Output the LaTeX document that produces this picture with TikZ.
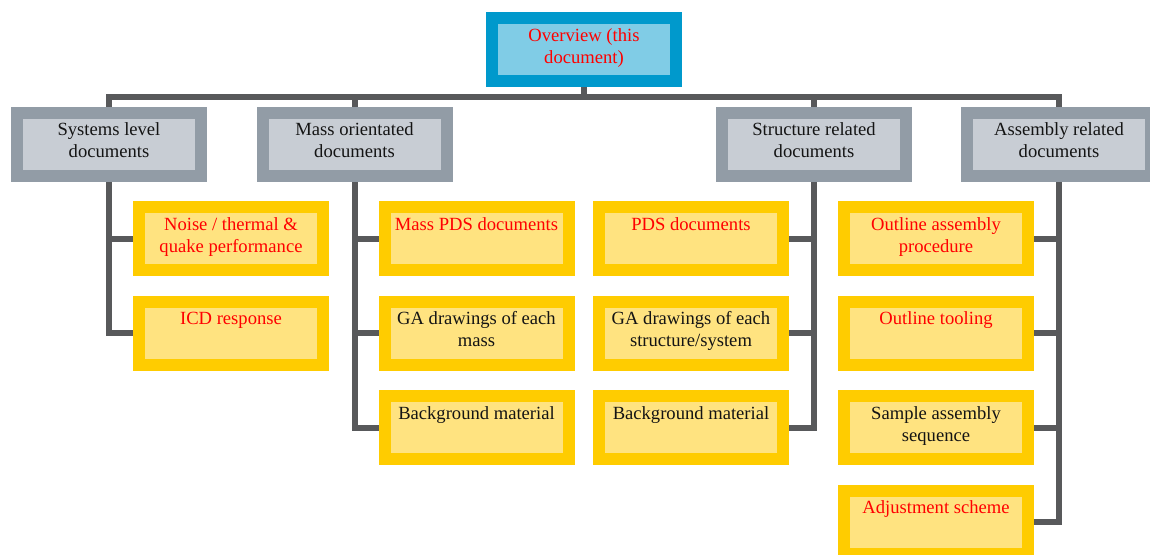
\documentclass[tikz,border=0pt]{standalone}
\usepackage{fontspec}
\setmainfont{Liberation Serif}
\usetikzlibrary{backgrounds}
\definecolor{blueO}{RGB}{0,153,204}
\definecolor{blueI}{RGB}{128,204,230}
\definecolor{grayO}{RGB}{146,156,166}
\definecolor{grayI}{RGB}{200,205,212}
\definecolor{yelO}{RGB}{255,204,0}
\definecolor{yelI}{RGB}{255,227,128}
\definecolor{connc}{RGB}{88,89,91}
\definecolor{txtred}{RGB}{255,0,0}
\definecolor{txtblk}{RGB}{20,20,20}
\newcommand{\boxtext}[1]{\parbox[c][51pt][t]{172pt}{\centering\rule{0pt}{17pt}#1}}
\begin{document}
\begin{tikzpicture}[x=1pt,y=-1pt,
  boxbase/.style={draw, line width=12pt, inner sep=6pt, font=\fontsize{18.6}{22}\selectfont},
  topbox/.style={boxbase, draw=blueO, fill=blueI, text=txtred},
  grpbox/.style={boxbase, draw=grayO, fill=grayI, text=txtblk},
  itembox/.style={boxbase, draw=yelO, fill=yelI},
  redtxt/.style={text=txtred},
  blktxt/.style={text=txtblk},
  connector/.style={draw=connc, line width=6pt}]
\useasboundingbox (0,0) rectangle (1150,554);
\clip (0,0) rectangle (1150,554);

% top
\node[topbox] (top) at (584,49.5) {\boxtext{Overview (this document)}};
% groups
\node[grpbox] (g1) at (109,144) {\boxtext{Systems level documents}};
\node[grpbox] (g2) at (354.5,144) {\boxtext{Mass orientated documents}};
\node[grpbox] (g3) at (814,144) {\boxtext{Structure related documents}};
\node[grpbox] (g4) at (1059,144) {\boxtext{Assembly related documents}};
% column A
\node[itembox,redtxt] (a1) at (231,238.5) {\boxtext{Noise / thermal \& quake performance}};
\node[itembox,redtxt] (a2) at (231,333) {\boxtext{ICD response}};
% column B
\node[itembox,redtxt] (b1) at (476.5,238.5) {\boxtext{Mass PDS documents}};
\node[itembox,blktxt] (b2) at (476.5,333) {\boxtext{GA drawings of each mass}};
\node[itembox,blktxt] (b3) at (476.5,427.5) {\boxtext{Background material}};
% column C
\node[itembox,redtxt] (c1) at (691,238.5) {\boxtext{PDS documents}};
\node[itembox,blktxt] (c2) at (691,333) {\boxtext{GA drawings of each structure/system}};
\node[itembox,blktxt] (c3) at (691,427.5) {\boxtext{Background material}};
% column D
\node[itembox,redtxt] (d1) at (936,238.5) {\boxtext{Outline assembly procedure}};
\node[itembox,redtxt] (d2) at (936,333) {\boxtext{Outline tooling}};
\node[itembox,blktxt] (d3) at (936,427.5) {\boxtext{Sample assembly sequence}};
\node[itembox,redtxt] (d4) at (936,522) {\boxtext{Adjustment scheme}};

\coordinate (bus) at (0,97);
\begin{scope}[on background layer]
  \draw[connector] (g1.north) -- (g1.north |- bus) -- (g4.north |- bus) -- (g4.north);
  \draw[connector] (top.south) -- (top.south |- bus);
  \draw[connector] (g2.north) -- (g2.north |- bus);
  \draw[connector] (g3.north) -- (g3.north |- bus);
  \draw[connector] (g1.south) |- (a1.west);
  \draw[connector] (g1.south) |- (a2.west);
  \draw[connector] (g2.south) |- (b1.west);
  \draw[connector] (g2.south) |- (b2.west);
  \draw[connector] (g2.south) |- (b3.west);
  \draw[connector] (g3.south) |- (c1.east);
  \draw[connector] (g3.south) |- (c2.east);
  \draw[connector] (g3.south) |- (c3.east);
  \draw[connector] (g4.south) |- (d1.east);
  \draw[connector] (g4.south) |- (d2.east);
  \draw[connector] (g4.south) |- (d3.east);
  \draw[connector] (g4.south) |- (d4.east);
\end{scope}
\end{tikzpicture}
\end{document}
